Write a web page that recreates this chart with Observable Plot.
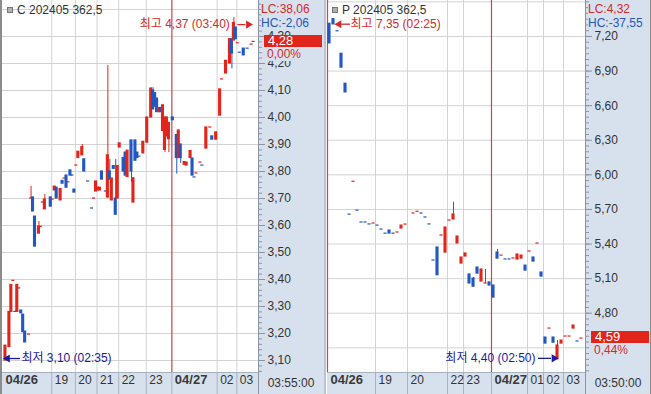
<!DOCTYPE html>
<html><head><meta charset="utf-8">
<script src="https://cdn.jsdelivr.net/npm/d3@7"></script>
<script src="https://cdn.jsdelivr.net/npm/@observablehq/plot@0.6"></script>
<style>
html,body{margin:0;padding:0;background:#fff;}
#chart{position:relative;width:651px;height:394px;overflow:hidden;background:#fff;font-family:"Liberation Sans","Noto Sans CJK KR",sans-serif;font-size:12px;color:#333;}
#chart svg{position:absolute;top:0;}
.d{position:absolute;white-space:nowrap;line-height:12px;}
</style></head><body><div id="chart"></div>
<script>
// ---------- DATA ----------
// [slot, open, high, low, close, up(1=red,0=blue)]
const callBars = [
 [1,3.10,3.155,3.10,3.155,1],[3,3.15,3.28,3.15,3.28,1],[4,3.28,3.38,3.28,3.38,1],[5,3.395,3.395,3.395,3.395,1],
 [6,3.28,3.28,3.28,3.28,0],[7,3.28,3.38,3.28,3.38,1],[8,3.367,3.367,3.367,3.367,0],[9,3.285,3.285,3.275,3.275,0],
 [10,3.27,3.27,3.205,3.205,0],[11,3.207,3.207,3.167,3.167,0],[13,3.196,3.196,3.196,3.196,1],
 [14,3.70,3.745,3.70,3.70,1],[15,3.704,3.704,3.652,3.652,0],[16,3.633,3.633,3.522,3.522,0],
 [18,3.57,3.615,3.57,3.596,1],[19,3.595,3.595,3.595,3.595,1],[20,3.685,3.685,3.685,3.685,1],
 [21,3.66,3.715,3.66,3.696,1],[24,3.704,3.704,3.67,3.67,0],[25,3.696,3.696,3.696,3.696,1],
 [26,3.73,3.744,3.73,3.744,1],[27,3.74,3.74,3.70,3.70,0],[29,3.693,3.735,3.693,3.735,1],
 [30,3.765,3.765,3.755,3.755,0],[31,3.774,3.774,3.774,3.774,1],[32,3.785,3.785,3.74,3.74,0],
 [33,3.76,3.76,3.76,3.76,1],[34,3.804,3.804,3.785,3.785,0],[35,3.785,3.785,3.785,3.785,0],
 [36,3.733,3.733,3.722,3.722,0],[37,3.822,3.822,3.822,3.822,1],[38,3.85,3.873,3.85,3.873,1],
 [40,3.86,3.90,3.86,3.89,1],[41,3.845,3.845,3.80,3.80,0],[43,3.763,3.763,3.763,3.763,0],
 [45,3.663,3.663,3.663,3.663,0],[46,3.70,3.70,3.70,3.70,1],[47,3.726,3.763,3.726,3.763,1],
 [48,3.73,3.74,3.73,3.74,1],[49,3.73,3.74,3.73,3.74,1],[50,3.80,3.80,3.77,3.77,0],
 [52,3.726,3.726,3.726,3.726,0],[53,3.704,4.193,3.70,3.86,1],[54,3.80,3.845,3.77,3.77,0],
 [55,3.693,3.774,3.693,3.774,1],[56,3.82,3.82,3.81,3.81,0],[57,3.70,3.845,3.64,3.64,0],
 [58,3.70,3.82,3.70,3.82,1],[59,3.889,3.904,3.889,3.904,1],[61,3.85,3.85,3.80,3.80,0],
 [62,3.87,3.87,3.785,3.785,0],[63,3.78,3.877,3.78,3.877,1],[65,3.915,3.915,3.76,3.80,0],
 [66,3.685,3.775,3.685,3.775,1],[67,3.915,3.915,3.84,3.84,0],[68,3.87,3.87,3.85,3.85,0],
 [69,3.855,3.855,3.855,3.855,0],[71,3.867,3.91,3.867,3.91,1],[73,3.907,4.00,3.907,4.00,1],
 [75,4.00,4.11,4.00,4.107,1],[76,4.10,4.11,4.03,4.03,0],[77,4.09,4.09,4.04,4.04,0],
 [78,4.07,4.07,4.02,4.02,0],[79,4.02,4.035,4.02,4.035,1],[80,4.035,4.035,4.02,4.02,0],
 [81,3.95,4.045,3.95,4.045,1],[82,3.88,4.00,3.87,4.00,1],[83,3.93,4.00,3.93,4.00,1],
 [84,3.92,3.98,3.87,3.98,1],[86,4.00,4.00,3.99,3.99,0],[88,3.935,3.935,3.79,3.85,0],
 [89,3.85,3.952,3.85,3.952,1],[90,3.90,3.90,3.83,3.85,0],[92,3.825,3.835,3.825,3.835,1],
 [93,3.822,3.833,3.822,3.833,1],[95,3.85,3.876,3.85,3.876,1],[96,3.848,3.848,3.785,3.785,0],
 [97,3.778,3.778,3.778,3.778,0],[98,3.793,3.793,3.793,3.793,1],[100,3.833,3.833,3.833,3.833,1],
 [101,3.822,3.822,3.822,3.822,0],[103,3.885,3.963,3.885,3.963,1],[105,3.963,3.963,3.963,3.963,1],
 [106,3.93,3.93,3.918,3.918,0],[108,3.918,3.945,3.918,3.945,1],[110,4.007,4.104,4.007,4.104,1],
 [111,4.141,4.141,4.141,4.141,1],[113,4.163,4.21,4.163,4.21,1],[115,4.20,4.29,4.20,4.29,1],
 [116,4.29,4.29,4.18,4.237,0],[117,4.285,4.37,4.285,4.35,1],[118,4.333,4.333,4.29,4.29,0],
 [119,4.275,4.275,4.275,4.275,1],[120,4.24,4.24,4.24,4.24,0],[122,4.255,4.255,4.23,4.23,0],
 [124,4.255,4.255,4.255,4.255,0],[126,4.27,4.27,4.27,4.27,1],[127,4.28,4.28,4.28,4.28,1]
];
const putBars = [
 [0,7.31,7.31,7.14,7.14,0],[1,7.35,7.35,7.305,7.305,0],[2,7.245,7.245,7.245,7.245,0],
 [3,7.05,7.05,6.93,6.93,0],[4,6.79,6.79,6.715,6.715,0],[5,5.655,5.655,5.655,5.655,0],
 [6,5.94,5.94,5.94,5.94,1],[7,5.69,5.69,5.69,5.69,0],[8,5.587,5.587,5.587,5.587,0],
 [9,5.587,5.587,5.587,5.587,0],[10,5.57,5.57,5.57,5.57,0],[11,5.578,5.578,5.578,5.578,1],
 [12,5.56,5.56,5.56,5.56,0],[13,5.526,5.526,5.526,5.526,0],[14,5.49,5.49,5.49,5.49,0],
 [15,5.517,5.517,5.491,5.491,0],[16,5.49,5.49,5.49,5.49,0],[17,5.50,5.50,5.50,5.50,1],
 [18,5.535,5.56,5.535,5.56,1],[19,5.569,5.569,5.569,5.569,1],[21,5.665,5.665,5.665,5.665,1],
 [22,5.68,5.68,5.68,5.68,1],[23,5.665,5.665,5.665,5.665,0],[24,5.63,5.63,5.63,5.63,0],
 [25,5.57,5.57,5.57,5.57,0],[26,5.257,5.257,5.257,5.257,0],[27,5.37,5.37,5.13,5.13,0],
 [28,5.474,5.474,5.474,5.474,1],[29,5.326,5.543,5.326,5.543,1],[30,5.604,5.604,5.604,5.604,1],
 [31,5.613,5.763,5.613,5.656,1],[32,5.405,5.465,5.405,5.465,1],[33,5.231,5.283,5.231,5.283,1],
 [34,5.292,5.318,5.292,5.318,1],[35,5.136,5.136,5.058,5.058,0],[36,5.10,5.11,5.03,5.03,0],
 [37,5.196,5.196,5.144,5.144,0],[38,5.075,5.179,5.075,5.179,1],[39,5.058,5.179,5.058,5.058,1],
 [40,5.067,5.067,5.04,5.04,0],[41,5.04,5.04,4.936,4.936,0],[42,5.326,5.353,5.274,5.274,0],
 [43,5.30,5.30,5.30,5.30,1],[44,5.266,5.266,5.266,5.266,0],[45,5.266,5.266,5.266,5.266,0],
 [46,5.275,5.275,5.275,5.275,1],[47,5.266,5.309,5.266,5.309,1],[48,5.274,5.30,5.274,5.30,1],
 [49,5.213,5.213,5.17,5.17,0],[50,5.335,5.335,5.335,5.335,1],[51,5.283,5.283,5.248,5.248,0],
 [52,5.404,5.404,5.404,5.404,1],[53,5.153,5.153,5.118,5.118,0],[54,4.589,4.589,4.537,4.537,0],
 [55,4.667,4.667,4.667,4.667,1],[56,4.589,4.589,4.545,4.545,0],[57,4.40,4.563,4.40,4.52,1],
 [58,4.537,4.563,4.537,4.563,1],[59,4.598,4.598,4.598,4.598,1],[60,4.598,4.598,4.598,4.598,1],
 [61,4.667,4.693,4.667,4.693,1],[62,4.555,4.555,4.555,4.555,0],[63,4.58,4.58,4.58,4.58,1]
];
const callHourSlots = [0, 25, 37, 48, 59, 73, 86, 109, 119];
const callHourLabels = ["04/26", "19", "20", "21", "22", "23", "04/27", "02", "03"];
const putHourSlots = [0, 12, 20, 30, 34, 41, 50, 54, 59];
const putHourLabels = ["04/26", "19", "20", "22", "23", "04/27", "01", "02", "03"];
const callYLabels = [3.10,3.20,3.30,3.40,3.50,3.60,3.70,3.80,3.90,4.00,4.10,4.20,4.30];
const callYGrid = [3.10,3.20,3.30,3.40,3.50,3.60,3.70,3.80,3.90,4.00,4.10,4.20,4.30,4.40];
const putYLabels = [4.80,5.10,5.40,5.70,6.00,6.30,6.60,6.90,7.20];
const putYGrid = [4.50,4.80,5.10,5.40,5.70,6.00,6.30,6.60,6.90,7.20,7.50];
const callHigh = {slot: 117, value: 4.37, label: "최고 4,37 (03:40)"};
const callLow = {slot: 1, value: 3.10, label: "최저 3,10 (02:35)"};
const putHigh = {slot: 1, value: 7.35, label: "최고 7,35 (02:25)"};
const putLow = {slot: 57, value: 4.40, label: "최저 4,40 (02:50)"};
const callInfo = {name: "C 202405 362,5", lc: "LC:38,06", hc: "HC:-2,06", last: 4.28, lastText: "4,28", pct: "0,00%", time: "03:55:00"};
const putInfo = {name: "P 202405 362,5", lc: "LC:4,32", hc: "HC:-37,55", last: 4.59, lastText: "4,59", pct: "0,44%", time: "03:50:00"};

// ---------- STYLE ----------
const RED = "#e2251b", BLUE = "#2058c2", NAVY = "#1c1c9e", TRED = "#d42a2a", TBLUE = "#2656b8";
const GRID = "#d3d3d3", DAY = "#c8454a", AXIS = "#8a94a4", PANEL = "#d7e1ee", TEXT = "#333", SEP = "#a7b1c0";
const H = 394, BAND = 22;
const FONT = '"Liberation Sans","Noto Sans CJK KR",sans-serif';
const chart = document.getElementById("chart");
function div(style, text) {
  const d = document.createElement("div"); d.className = "d";
  Object.assign(d.style, style); if (text != null) d.textContent = text;
  chart.appendChild(d); return d;
}

function drawPanel(p) {
  const rows = p.bars.map(([slot, open, high, low, close, up]) =>
    ({slot, high, low, up, top: Math.max(open, close), bot: Math.min(open, close)}));
  const col = d => d.up ? RED : BLUE;
  const fmt = v => v.toFixed(2).replace(".", ",");
  const st = p.minorStep;
  const minor = d3.range(Math.ceil(p.yDomain[0] / st - 1e-9), Math.floor(p.yDomain[1] / st + 1e-9) + 1).map(k => +(k * st).toFixed(3));
  const ticks = p.hourSlots.map((s, i) => ({x: s - 0.5, label: p.hourLabels[i], date: p.hourLabels[i].includes("/"), first: i === 0}));
  const w = (p.width - p.marginLeft - p.marginRight) / (p.xDomain[1] - p.xDomain[0]);
  const hw = 1.55 / w;
  const px = v => v / w;
  const annot = (a, o, color) => [
    Plot.ruleY([a], {x1: d => d.slot + px(o.s0), x2: d => d.slot + px(o.s1), y: "value", dy: o.dy, stroke: color, strokeWidth: 1.3}),
    Plot.dot([a], {x: d => d.slot + px(o.h), y: "value", dy: o.dy, symbol: "triangle", r: 3, rotate: o.rot, fill: color, stroke: null}),
    Plot.text([a], {x: "slot", y: "value", text: "label", dx: o.tdx, dy: o.dy, textAnchor: o.anchor, fill: color, fontSize: 12})
  ];
  const plot = Plot.plot({
    width: p.width, height: H,
    marginLeft: p.marginLeft, marginRight: p.marginRight, marginTop: 0, marginBottom: BAND,
    x: {domain: p.xDomain, axis: null},
    y: {domain: p.yDomain, axis: null},
    color: {type: "identity"},
    style: {background: "transparent", fontFamily: FONT, fontSize: "12px", color: TEXT},
    marks: [
      Plot.gridY(p.yGrid, {stroke: GRID, strokeOpacity: 1}),
      Plot.ruleX(ticks.filter(t => !t.date && !t.first), {x: "x", stroke: GRID}),
      Plot.ruleX(ticks.filter(t => t.date && (!t.first || p.firstDayLine)), {x: "x", stroke: DAY, strokeWidth: 1.2}),
      Plot.ruleX(rows, {x: "slot", y1: "low", y2: "high", stroke: col, strokeWidth: 1}),
      Plot.rect(rows, {x1: d => d.slot - hw, x2: d => d.slot + hw, y1: "top", y2: "bot", fill: col, insetTop: -0.6, insetBottom: -0.6}),
      Plot.axisY(minor, {anchor: "right", tickSize: 3, tickFormat: () => "", stroke: AXIS, label: null}),
      Plot.axisY(p.yLabels, {anchor: "right", tickSize: 6, tickPadding: 3, tickFormat: fmt, stroke: AXIS, fill: TEXT, label: null}),
      Plot.axisX(ticks.filter(t => !t.first).map(t => t.x), {anchor: "bottom", tickSize: BAND, tickFormat: () => "", stroke: SEP, label: null}),
      Plot.text(ticks.filter(t => !t.date), {x: "x", text: "label", frameAnchor: "bottom", dy: 11, dx: 3, textAnchor: "start", fill: TEXT, fontSize: 12}),
      Plot.text(ticks.filter(t => t.date), {x: "x", text: "label", frameAnchor: "bottom", dy: 11, dx: 3, textAnchor: "start", fill: "#3a3a3a", fontSize: 13, fontWeight: "bold"}),
      ...annot(p.high, p.highOpt, TRED),
      ...annot(p.low, p.lowOpt, NAVY)
    ]
  });
  plot.style.left = p.left + "px";
  chart.appendChild(plot);
  // overlays tied to the y scale
  const y = plot.scale("y");
  const ax = p.left + p.width - p.marginRight; // axis panel left edge
  const yl = y.apply(p.info.last);
  div({left: (ax + 6) + "px", top: Math.round(yl - 6) + "px", width: (p.marginRight - 8) + "px", height: "12px", background: RED, color: "#fff", fontSize: "13px", paddingLeft: "4px", boxSizing: "border-box"}, p.info.lastText);
  div({left: (ax + 6) + "px", top: Math.round(yl + 7) + "px", width: (p.marginRight - 8) + "px", height: "13px", background: PANEL, color: TRED, fontSize: "12px", paddingLeft: "3px", boxSizing: "border-box", lineHeight: "13px"}, p.info.pct);
  div({left: (ax + 3) + "px", top: "3px", color: TRED, fontSize: "12px", background: PANEL, paddingRight: "2px"}, p.info.lc);
  div({left: (ax + 3) + "px", top: "17px", color: TBLUE, fontSize: "12px", background: PANEL, paddingRight: "2px"}, p.info.hc);
  div({left: ax + "px", top: (H - BAND) + "px", width: p.marginRight + "px", height: BAND + "px", lineHeight: BAND + "px", textAlign: "center", color: TEXT, fontSize: "12px"}, p.info.time);
  const nx = p.left + p.marginLeft;
  div({left: (nx + 5) + "px", top: "7px", width: "4px", height: "4px", background: "#b0b0b0", border: "1px solid #777"});
  div({left: (nx + 15) + "px", top: "4px", color: TEXT, fontSize: "12px"}, p.info.name);
  return plot;
}

// backgrounds (below the plots)
function bg(left, top, width, height, color) { div({left: left + "px", top: top + "px", width: width + "px", height: height + "px", background: color}); }
bg(258, 0, 66, H, PANEL);            // left value panel
bg(585, 0, 66, H, PANEL);            // right value panel
bg(0, H - BAND, 258, BAND, PANEL);   // left time band
bg(327, H - BAND, 258, BAND, PANEL); // right time band
bg(0, H - BAND, 258, 1, SEP);
bg(327, H - BAND, 258, 1, SEP);
bg(258, 0, 1, H, AXIS);
bg(585, 0, 1, H, AXIS);
bg(0, 0, 2, H, "#8c8c8c");
bg(324, 0, 2, H, "#b9c3d1");
bg(650, 0, 1, H, "#8c8c8c");

drawPanel({
  bars: callBars, left: 0, width: 324, marginLeft: 2, marginRight: 66,
  xDomain: [-0.5, 129.5], yDomain: [3.0556, 4.4333], minorStep: 0.02,
  yLabels: callYLabels, yGrid: callYGrid, hourSlots: callHourSlots, hourLabels: callHourLabels,
  firstDayLine: false, info: callInfo,
  high: callHigh, highOpt: {tdx: -4, anchor: "end", s0: 4, s1: 12, h: 14.5, rot: 90, dy: 7},
  low: callLow, lowOpt: {tdx: 16, anchor: "start", s0: 3, s1: 15, h: 2, rot: -90, dy: -2}
});
drawPanel({
  bars: putBars, left: 326, width: 325, marginLeft: 1, marginRight: 66,
  xDomain: [-0.5, 64], yDomain: [4.286, 7.512], minorStep: 0.05,
  yLabels: putYLabels, yGrid: putYGrid, hourSlots: putHourSlots, hourLabels: putHourLabels,
  firstDayLine: true, info: putInfo,
  high: putHigh, highOpt: {tdx: 17, anchor: "start", s0: 7, s1: 17, h: 5.5, rot: -90, dy: 5},
  low: putLow, lowOpt: {tdx: -22, anchor: "end", s0: -19, s1: -6, h: -3.5, rot: 90, dy: -1}
});
</script></body></html>
